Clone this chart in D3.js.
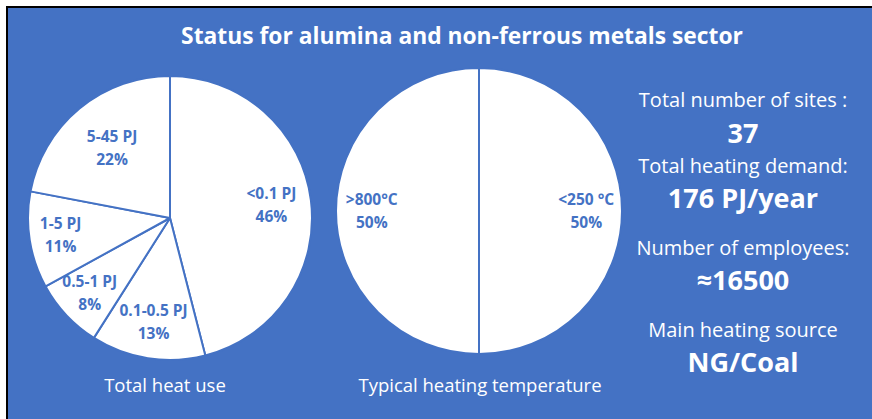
<!DOCTYPE html>
<html>
<head>
<meta charset="utf-8">
<script src="https://cdn.jsdelivr.net/npm/d3@7"></script>
<style>
  html, body { margin: 0; padding: 0; background: #fff; }
  svg { display: block; }
  text { font-family: "Open Sans", "Noto Sans", sans-serif; }
</style>
</head>
<body>
<svg id="chart" width="872" height="419"></svg>
<script>
// ---- data ----
const title = "Status for alumina and non-ferrous metals sector";
const heatUseCategories = ["<0.1 PJ", "0.1-0.5 PJ", "0.5-1 PJ", "1-5 PJ", "5-45 PJ"];
const heatUseShares = [46, 13, 8, 11, 22];
const heatUseTitle = "Total heat use";
const tempCategories = ["<250 °C", ">800°C"];
const tempShares = [50, 50];
const tempTitle = "Typical heating temperature";
const statLabels = ["Total number of sites :", "Total heating demand:", "Number of employees:", "Main heating source"];
const statValues = ["37", "176 PJ/year", "≈16500", "NG/Coal"];

// ---- layout ----
const W = 872, H = 419;
const blue = "#4472C4";
const svg = d3.select("#chart");

svg.append("rect").attr("x", 6).attr("y", 6).attr("width", W).attr("height", H).attr("fill", "#000");
svg.append("rect").attr("x", 8).attr("y", 8).attr("width", W).attr("height", H).attr("fill", blue);

svg.append("text")
  .attr("x", 462).attr("y", 44)
  .attr("text-anchor", "middle")
  .attr("fill", "#fff")
  .attr("font-weight", "bold")
  .attr("font-size", 22.8)
  .text(title);

function drawPie(cx, cy, r, cats, vals, labelFrac, caption, capX) {
  const g = svg.append("g").attr("transform", `translate(${cx},${cy})`);
  const pie = d3.pie().sort(null).value(d => d.v);
  const data = pie(cats.map((c, i) => ({ c, v: vals[i] })));
  const arc = d3.arc().innerRadius(0).outerRadius(r);
  g.selectAll("path.slice").data(data).join("path")
    .attr("class", "slice")
    .attr("d", arc)
    .attr("fill", "#fff")
    .attr("stroke", blue)
    .attr("stroke-width", 2)
    .attr("stroke-linejoin", "round");
  const lab = g.selectAll("text.lbl").data(data).join("text")
    .attr("class", "lbl")
    .attr("text-anchor", "middle")
    .attr("fill", blue)
    .attr("font-weight", "bold")
    .attr("font-size", 15.5)
    .attr("transform", (d, i) => {
      const lr = labelFrac[i] * r;
      const [x, y] = d3.arc().innerRadius(lr).outerRadius(lr).centroid(d);
      return `translate(${x},${y})`;
    });
  lab.append("tspan").attr("x", 0).attr("y", -6).text(d => d.data.c);
  lab.append("tspan").attr("x", 0).attr("y", 17).text(d => d.data.v + "%");
  svg.append("text")
    .attr("x", capX).attr("y", 392)
    .attr("text-anchor", "middle")
    .attr("fill", "#fff")
    .attr("font-size", 18.5)
    .text(caption);
}

drawPie(170, 218, 142, heatUseCategories, heatUseShares, [0.72, 0.74, 0.775, 0.78, 0.64], heatUseTitle, 165);
drawPie(479, 211, 143, tempCategories, tempShares, [0.75, 0.75], tempTitle, 480);

const labelY = [107, 173, 255, 337];
const valueY = [143, 208, 290, 372];
const statX = 743;
svg.selectAll("text.statLabel").data(statLabels).join("text")
  .attr("class", "statLabel")
  .attr("x", statX).attr("y", (d, i) => labelY[i])
  .attr("text-anchor", "middle")
  .attr("fill", "#fff")
  .attr("font-size", 20)
  .text(d => d);
svg.selectAll("text.statValue").data(statValues).join("text")
  .attr("class", "statValue")
  .attr("x", statX).attr("y", (d, i) => valueY[i])
  .attr("text-anchor", "middle")
  .attr("fill", "#fff")
  .attr("font-weight", "bold")
  .attr("font-size", 27)
  .text(d => d);
</script>
</body>
</html>
